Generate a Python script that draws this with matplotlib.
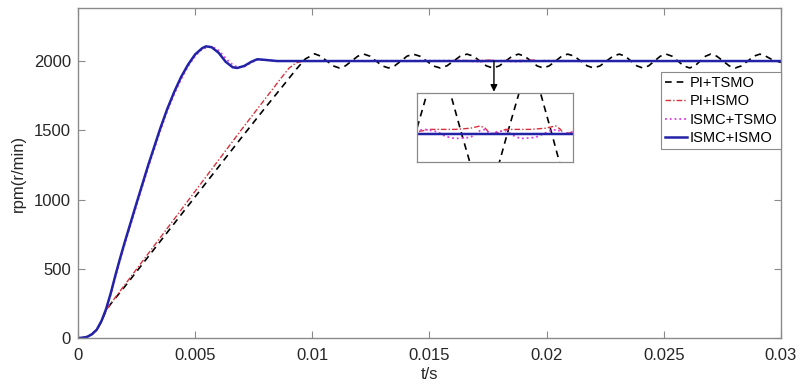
import matplotlib
matplotlib.use('Agg')
import matplotlib.pyplot as plt

plt.rcParams['font.family'] = ['Liberation Sans', 'DejaVu Sans']

# ---- data ----
x_ticks = [0, 0.005, 0.01, 0.015, 0.02, 0.025, 0.03]
x_labels = ['0', '0.005', '0.01', '0.015', '0.02', '0.025', '0.03']
y_ticks = [0, 500, 1000, 1500, 2000]

# ISMC+ISMO (blue)
t_blue = [0, 0.0002, 0.0004, 0.0006, 0.0008, 0.001, 0.0012, 0.0014, 0.0016,
          0.0018, 0.002, 0.0025, 0.003, 0.0035, 0.0038, 0.0041, 0.0044,
          0.0047, 0.005, 0.0053, 0.00546, 0.0057, 0.006, 0.0063, 0.0066,
          0.0068, 0.0071, 0.0074, 0.00765, 0.008, 0.0085, 0.03]
v_blue = [0, 2, 9, 28, 60, 122, 210, 325, 455,
          578, 695, 975, 1250, 1508, 1650, 1775, 1885,
          1975, 2048, 2093, 2106, 2100, 2060, 1995, 1955,
          1950, 1965, 1995, 2013, 2008, 2000, 2000]

# ISMC+TSMO (magenta)
t_mag = [0, 0.0002, 0.0004, 0.0006, 0.0008, 0.001, 0.0012, 0.0014, 0.0016,
         0.0018, 0.002, 0.0025, 0.003, 0.0035, 0.0038, 0.0041, 0.0044,
         0.0047, 0.005, 0.0053, 0.0056, 0.0059, 0.0062, 0.0065, 0.0068,
         0.0071, 0.0074, 0.0077, 0.008, 0.0085,
         0.01607, 0.01626, 0.01656, 0.01675, 0.01699, 0.01736, 0.0176,
         0.01772, 0.01784, 0.01801, 0.01821, 0.01838, 0.01857, 0.01893,
         0.0193, 0.01947, 0.01959, 0.01985, 0.03]
v_mag = [0, 2, 9, 27, 58, 118, 204, 316, 444,
         566, 682, 960, 1235, 1492, 1635, 1760, 1870,
         1962, 2036, 2086, 2104, 2092, 2040, 1985, 1955,
         1960, 1990, 2012, 2008, 2000,
         2003, 2004, 2002, 1998, 1996, 1997, 2003,
         2004, 2000, 2002, 2003, 1999, 1996, 1997,
         2003, 2004, 2000, 2002, 2000]

# PI+ISMO (red)
t_red = [0, 0.0002, 0.0004, 0.0006, 0.0008, 0.001, 0.0012, 0.0014, 0.002,
         0.003, 0.004, 0.005, 0.006, 0.007, 0.008, 0.0086, 0.009, 0.0093,
         0.0096, 0.0100,
         0.01607, 0.01639, 0.01699, 0.01736, 0.0176, 0.01772, 0.01784,
         0.01801, 0.01821, 0.01881, 0.01917, 0.01942, 0.01954, 0.01961,
         0.01978, 0.01985, 0.03]
v_red = [0, 2, 9, 28, 60, 120, 200, 250, 385,
         610, 835, 1060, 1285, 1510, 1730, 1862, 1948, 1986,
         2000, 2000,
         2002, 2004, 2004, 2005, 2007, 2005, 2000,
         2001, 2004, 2004, 2005, 2007, 2004, 2000,
         2001, 2003, 2000]

# PI+TSMO (black)
t_blk = [0, 0.0002, 0.0004, 0.0006, 0.0008, 0.001, 0.0012, 0.0014, 0.002,
         0.003, 0.004, 0.005, 0.006, 0.007, 0.008, 0.0088, 0.0093, 0.0097,
         0.0101,
         0.01036, 0.01062, 0.01089, 0.01115,
         0.01141, 0.01168, 0.01194, 0.0122,
         0.01246, 0.01272, 0.01299, 0.01325,
         0.01351, 0.01378, 0.01404, 0.0143,
         0.01459, 0.01488, 0.01516, 0.01545,
         0.01574, 0.01603, 0.01631, 0.0166,
         0.01688, 0.01715, 0.01743, 0.0177,
         0.01798, 0.01825, 0.01853, 0.0188,
         0.01906, 0.01933, 0.01959, 0.01985,
         0.02011, 0.02038, 0.02064, 0.0209,
         0.02118, 0.02145, 0.02173, 0.0220,
         0.02228, 0.02255, 0.02283, 0.0231,
         0.02335, 0.0236, 0.02385, 0.0241,
         0.02435, 0.0246, 0.02485, 0.0251,
         0.02535, 0.0256, 0.02585, 0.0261,
         0.02633, 0.02655, 0.02678, 0.0270,
         0.02726, 0.02753, 0.02779, 0.02805,
         0.02831, 0.02858, 0.02884, 0.0291,
         0.02935, 0.0296, 0.0300]
v_blk = [0, 2, 9, 28, 60, 120, 200, 247, 372,
         588, 804, 1020, 1236, 1452, 1665, 1832, 1938, 2015,
         2052,
         2035, 2000, 1965, 1950,
         1965, 2000, 2035, 2050,
         2035, 2000, 1965, 1950,
         1965, 2000, 2035, 2050,
         2035, 2000, 1965, 1950,
         1965, 2000, 2035, 2050,
         2035, 2000, 1965, 1950,
         1965, 2000, 2035, 2050,
         2035, 2000, 1965, 1950,
         1965, 2000, 2035, 2050,
         2035, 2000, 1965, 1950,
         1965, 2000, 2035, 2050,
         2035, 2000, 1965, 1950,
         1965, 2000, 2035, 2050,
         2035, 2000, 1965, 1950,
         1965, 2000, 2035, 2050,
         2035, 2000, 1965, 1950,
         1965, 2000, 2035, 2050,
         2035, 2012, 1990]

zoom_x = (0.01607, 0.01984)
zoom_y = (1975.6, 2035.7)

# ---- styles ----
styles = [
    ('PI+TSMO', t_blk, v_blk, dict(color='black', ls=(0, (4, 3)), lw=1.2)),
    ('PI+ISMO', t_red, v_red, dict(color='#d8303c', ls=(0, (4, 1.5, 1, 1.5)), lw=1.0)),
    ('ISMC+TSMO', t_mag, v_mag, dict(color='#e03be6', ls=':', lw=1.3)),
    ('ISMC+ISMO', t_blue, v_blue, dict(color='#2323a8', ls='-', lw=1.8)),
]

frame = '#8a8a8a'
text = '#262626'

fig = plt.figure(figsize=(8.03, 3.88), dpi=100)
ax = fig.add_axes([78 / 803, 50 / 388, 703 / 803, 330 / 388])

for name, t, v, kw in styles:
    ax.plot(t, v, label=name, **kw)

ax.set_xlim(0, 0.03)
ax.set_ylim(0, 2383)
ax.set_xticks(x_ticks)
ax.set_xticklabels(x_labels)
ax.set_yticks(y_ticks)
ax.tick_params(direction='in', top=True, right=True, length=5,
               color=frame, labelcolor=text, labelsize=12)
ax.tick_params(axis='x', pad=7)
ax.tick_params(axis='y', pad=5)
for s in ax.spines.values():
    s.set_color(frame)
    s.set_linewidth(1.0)
ax.set_xlabel('t/s', fontsize=12, color=text, labelpad=3)
ax.set_ylabel('rpm(r/min)', fontsize=12, color=text, labelpad=6)

leg = ax.legend(loc='upper right', bbox_to_anchor=(1.0, 0.806), fontsize=10.5,
                handlelength=1.5, handletextpad=0.15, borderpad=0.28,
                labelspacing=0.3, borderaxespad=0, fancybox=False,
                framealpha=1)
leg.get_frame().set_edgecolor(frame)
leg.get_frame().set_linewidth(0.8)
for txt in leg.get_texts():
    txt.set_color('black')

ax.annotate('', xy=(0.01775, 1778), xytext=(0.01775, 2000),
            arrowprops=dict(arrowstyle='-|>', color='black', lw=1.0,
                            mutation_scale=10, shrinkA=0, shrinkB=0))

ins = fig.add_axes([417 / 803, 226 / 388, 156 / 803, 69 / 388])
for name, t, v, kw in styles:
    ins.plot(t, v, **kw)
ins.set_xlim(*zoom_x)
ins.set_ylim(*zoom_y)
ins.set_xticks([])
ins.set_yticks([])
for s in ins.spines.values():
    s.set_color(frame)
    s.set_linewidth(0.9)

fig.savefig('out.png', dpi=100)
